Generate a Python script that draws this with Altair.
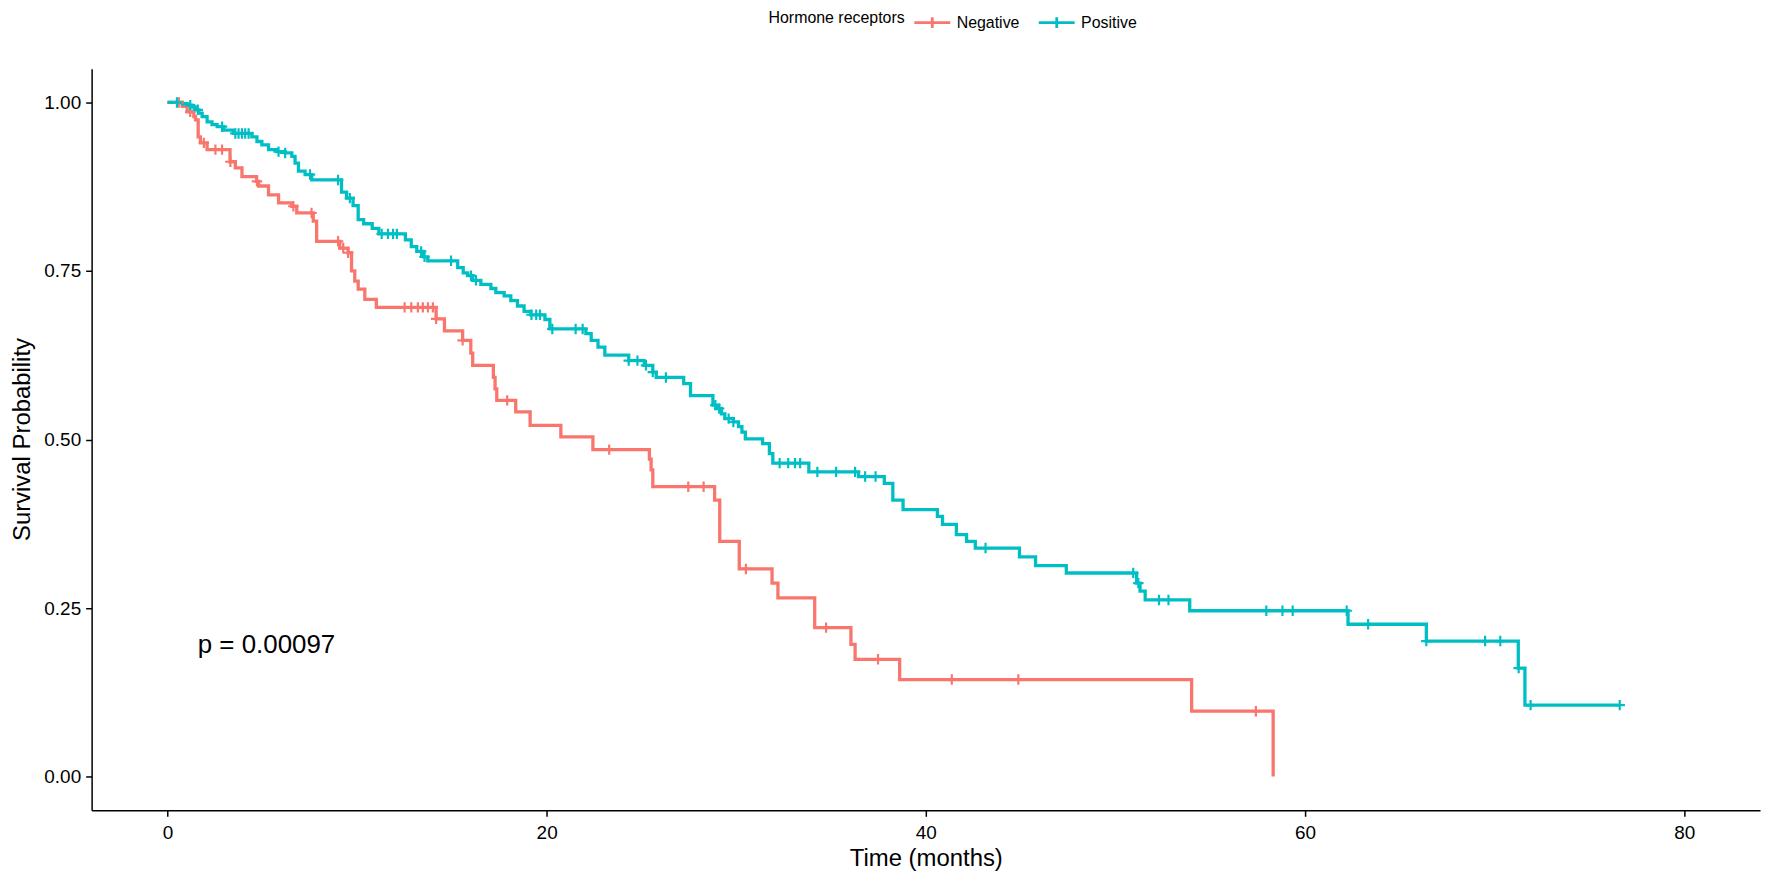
import altair as alt
import numpy as np
import pandas as pd

# ---------------- data ----------------
groups = ["Negative", "Positive"]
colors = ["#F8766D", "#00BFC4"]
x_ticks = [0, 20, 40, 60, 80]
y_ticks = [0, 0.25, 0.5, 0.75, 1.0]
p_label = "p = 0.00097"
p_pos = [1.6, 0.2]

neg_time = [0, 0.78, 1.04, 1.39, 1.48, 1.62, 1.74, 2.09, 3.30, 3.58,
            3.93, 4.70, 4.81, 5.33, 5.86, 6.56, 6.82, 7.69, 7.87, 9.09,
            9.53, 9.71, 9.88, 10.06, 10.41, 11.02, 14.17, 14.61, 15.57, 16.00,
            16.10, 17.19, 17.28, 17.37, 18.37, 19.13, 20.75, 22.44, 25.42, 25.51,
            25.60, 28.86, 29.13, 30.16, 31.89, 32.20, 34.14, 36.05, 36.27, 38.62,
            54.02, 58.32]
neg_surv = [1.0, 0.994, 0.986, 0.979, 0.974, 0.949, 0.940, 0.930, 0.912, 0.903,
            0.890, 0.883, 0.876, 0.863, 0.851, 0.846, 0.836, 0.824, 0.794, 0.784,
            0.777, 0.750, 0.735, 0.723, 0.708, 0.696, 0.679, 0.661, 0.647, 0.628,
            0.610, 0.592, 0.575, 0.558, 0.541, 0.521, 0.504, 0.485, 0.471, 0.455,
            0.430, 0.410, 0.349, 0.308, 0.287, 0.265, 0.221, 0.196, 0.174, 0.144,
            0.097, 0.0]
neg_censor = [0.6, 1.2, 1.92, 2.53, 2.88, 3.32, 4.72, 6.64, 7.6, 9.0,
              9.27, 9.53, 12.51, 12.86, 13.21, 13.47, 13.74, 14.0, 14.17, 15.57,
              17.92, 23.30, 27.47, 28.28, 30.51, 34.74, 37.48, 41.37, 44.88, 57.41]

pos_time = [0, 0.78, 1.04, 1.30, 1.48, 1.65, 1.83, 2.09, 2.35, 2.62,
            2.97, 3.49, 4.45, 4.72, 4.98, 5.33, 5.77, 6.21, 6.56, 6.73,
            6.91, 7.26, 7.61, 9.18, 9.45, 9.79, 10.06, 10.35, 10.80, 11.15,
            12.55, 12.86, 13.15, 13.50, 13.73, 15.31, 15.60, 15.84, 16.10, 16.53,
            17.06, 17.32, 17.76, 18.11, 18.46, 18.81, 19.16, 19.91, 20.17, 22.07,
            22.35, 22.71, 23.07, 24.33, 25.15, 25.60, 25.78, 27.23, 27.59, 28.77,
            28.95, 29.22, 29.40, 29.85, 30.12, 30.30, 30.48, 31.39, 31.75, 31.93,
            33.83, 36.45, 37.81, 38.26, 38.80, 40.61, 40.88, 41.61, 42.15, 42.61,
            44.94, 45.79, 47.41, 51.12, 51.30, 51.57, 53.92, 62.27, 66.40, 71.25,
            71.60, 76.60]
pos_surv = [1.0, 0.998, 0.996, 0.993, 0.989, 0.984, 0.979, 0.971, 0.967, 0.964,
            0.959, 0.954, 0.949, 0.942, 0.937, 0.930, 0.927, 0.925, 0.920, 0.910,
            0.898, 0.893, 0.885, 0.867, 0.858, 0.847, 0.826, 0.820, 0.813, 0.805,
            0.796, 0.786, 0.779, 0.771, 0.765, 0.755, 0.747, 0.743, 0.736, 0.730,
            0.724, 0.718, 0.713, 0.706, 0.698, 0.690, 0.685, 0.678, 0.664, 0.657,
            0.647, 0.637, 0.625, 0.617, 0.610, 0.600, 0.592, 0.583, 0.565, 0.551,
            0.546, 0.538, 0.531, 0.526, 0.519, 0.511, 0.501, 0.494, 0.479, 0.465,
            0.452, 0.445, 0.435, 0.410, 0.396, 0.386, 0.374, 0.359, 0.349, 0.339,
            0.326, 0.313, 0.302, 0.287, 0.275, 0.262, 0.246, 0.226, 0.201, 0.161,
            0.106, 0.106]
pos_censor = [0.5, 1.2, 1.6, 2.88, 3.58, 3.75, 3.93, 4.10, 4.28, 5.86,
              6.21, 7.52, 9.00, 9.62, 11.30, 11.63, 11.90, 12.10, 13.38, 13.56,
              14.96, 16.01, 16.27, 19.20, 19.45, 19.65, 20.30, 21.53, 21.90, 24.33,
              24.79, 25.24, 25.60, 26.29, 28.90, 29.10, 29.60, 29.85, 32.29, 32.74,
              33.10, 33.37, 34.28, 35.27, 36.27, 36.80, 37.35, 43.15, 50.94, 51.21,
              52.30, 52.80, 57.96, 58.81, 59.35, 62.20, 63.33, 66.40, 69.50, 70.30,
              71.27, 71.90, 76.60]

# ---------------- tables ----------------
def level_at(times, survs, t):
    idx = np.searchsorted(np.array(times), t, side="right") - 1
    return survs[int(idx)]

curves = pd.concat([
    pd.DataFrame({"time": neg_time, "surv": neg_surv, "group": groups[0]}),
    pd.DataFrame({"time": pos_time, "surv": pos_surv, "group": groups[1]}),
], ignore_index=True)

cens = pd.concat([
    pd.DataFrame({"time": neg_censor,
                  "surv": [level_at(neg_time, neg_surv, t) for t in neg_censor],
                  "group": groups[0]}),
    pd.DataFrame({"time": pos_censor,
                  "surv": [level_at(pos_time, pos_surv, t) for t in pos_censor],
                  "group": groups[1]}),
], ignore_index=True)

ptext = pd.DataFrame({"x": [p_pos[0]], "y": [p_pos[1]], "label": [p_label]})

PLUS = "M-1,0L1,0M0,-1L0,1"
FONT = "Liberation Sans"

xscale = alt.Scale(domain=[-4, 84], nice=False, zero=False)
yscale = alt.Scale(domain=[-0.05, 1.05], nice=False, zero=False)
cscale = alt.Scale(domain=groups, range=colors)

xaxis = alt.Axis(values=x_ticks, title="Time (months)", grid=False,
                 labelFontSize=19, titleFontSize=24, titleFontWeight="normal",
                 tickSize=6, labelPadding=7, domainColor="black", tickColor="black",
                 labelColor="black", titleColor="black", domainWidth=1.5, tickWidth=1.5,
                 titleX=838, titleY=48, titleBaseline="middle", labelFlush=False)
yaxis = alt.Axis(values=y_ticks, format=".2f", title="Survival Probability", grid=False,
                 labelFontSize=19, titleFontSize=24, titleFontWeight="normal",
                 tickSize=6, labelPadding=5, domainColor="black", tickColor="black",
                 labelColor="black", titleColor="black", domainWidth=1.5, tickWidth=1.5,
                 titleX=-69, titleY=372, titleAngle=270, titleAlign="center",
                 titleBaseline="middle", labelFlush=False)

legend = alt.Legend(title="Hormone receptors", orient="none", legendX=680, legendY=-66,
                    direction="horizontal", titleOrient="left", titleFontSize=16,
                    titleFontWeight="normal", labelFontSize=16, titleColor="black",
                    labelColor="black", symbolType="M-1,0L1,0M0,-0.3L0,0.3",
                    symbolSize=1300, symbolStrokeWidth=2.8, columnPadding=12,
                    labelOffset=5, titlePadding=8)

lines = alt.Chart(curves).mark_line(interpolate="step-after", strokeWidth=3.3).encode(
    x=alt.X("time:Q", scale=xscale, axis=xaxis),
    y=alt.Y("surv:Q", scale=yscale, axis=yaxis),
    color=alt.Color("group:N", scale=cscale, legend=legend),
    detail="group:N",
)

marks = alt.Chart(cens).mark_point(shape=PLUS, size=110, filled=False,
                                   strokeWidth=2.2, opacity=1).encode(
    x=alt.X("time:Q", scale=xscale),
    y=alt.Y("surv:Q", scale=yscale),
    color=alt.Color("group:N", scale=cscale, legend=None),
)

txt = alt.Chart(ptext).mark_text(align="left", baseline="middle", fontSize=26, dy=3,
                                 font=FONT, color="black").encode(
    x=alt.X("x:Q", scale=xscale),
    y=alt.Y("y:Q", scale=yscale),
    text="label:N",
)

chart = alt.layer(lines, marks, txt).properties(
    width=1676, height=745,
    autosize=alt.AutoSizeParams(type="none"),
    padding={"left": 84, "top": 59, "right": 4, "bottom": 62},
).configure(font=FONT).configure_view(stroke=None)

chart.save("out.html", embed_options={"renderer": "svg", "actions": False})
